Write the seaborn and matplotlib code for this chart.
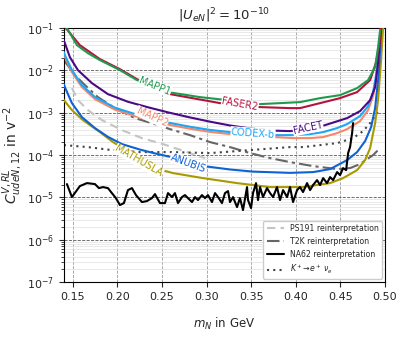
import numpy as np
import matplotlib
matplotlib.use("Agg")
import matplotlib.pyplot as plt
import seaborn as sns
from matplotlib.lines import Line2D
from matplotlib.ticker import LogLocator, FixedLocator, FormatStrFormatter

# ---- data: m_N in GeV, log10 of the Wilson coefficient bound ----
mapp1_m = [0.141, 0.1434, 0.1546, 0.1669, 0.1804, 0.2028, 0.2219, 0.2567, 0.2926, 0.3229, 0.3599,
           0.3823, 0.4047, 0.4272, 0.4496, 0.4687, 0.4810, 0.4889, 0.4922, 0.4945]
mapp1_log = [-0.85, -1.000, -1.402, -1.591, -1.756, -1.992, -2.228, -2.512, -2.630, -2.701, -2.795,
             -2.772, -2.748, -2.654, -2.583, -2.417, -2.228, -1.921, -1.449, -1.047]

faser2_m = [0.140, 0.1422, 0.1579, 0.1804, 0.2028, 0.2219, 0.2589, 0.3150, 0.3599, 0.3935, 0.4047,
            0.4272, 0.4496, 0.4687, 0.4833, 0.4900, 0.4934, 0.4956]
faser2_log = [-0.90, -1.000, -1.402, -1.732, -1.969, -2.205, -2.559, -2.772, -2.866, -2.890, -2.890,
              -2.772, -2.654, -2.512, -2.228, -1.803, -1.402, -1.000]

facet_m = [0.140, 0.1411, 0.1467, 0.1557, 0.1714, 0.1894, 0.2118, 0.2342, 0.2567, 0.2813, 0.3038, 0.3262,
           0.3487, 0.3711, 0.3935, 0.4160, 0.4328, 0.4575, 0.4720, 0.4833, 0.4889, 0.4922, 0.4945, 0.4956]
facet_log = [-1.30, -1.354, -1.685, -1.992, -2.299, -2.560, -2.740, -2.870, -2.990, -3.110, -3.210, -3.300,
             -3.370, -3.420, -3.433, -3.386, -3.292, -3.126, -2.961, -2.701, -2.394, -1.827, -1.283, -1.000]

codex_m = [0.140, 0.1411, 0.1490, 0.1602, 0.1748, 0.1972, 0.2196, 0.2365, 0.2589, 0.2813, 0.3038, 0.3262,
           0.3487, 0.3767, 0.3969, 0.4160, 0.4306, 0.4463, 0.4575, 0.4720, 0.4810, 0.4866, 0.4900, 0.4922,
           0.4945, 0.4956]
codex_log = [-1.567, -1.638, -1.992, -2.347, -2.630, -2.880, -3.030, -3.126, -3.240, -3.330, -3.405, -3.457,
             -3.500, -3.528, -3.528, -3.504, -3.457, -3.362, -3.268, -3.079, -2.843, -2.512, -2.110, -1.638,
             -1.165, -0.93]

mapp2_m = codex_m
mapp2_log = [-1.62, -1.685, -2.039, -2.394, -2.677, -2.927, -3.077, -3.173, -3.288, -3.377, -3.452, -3.504,
             -3.547, -3.575, -3.599, -3.599, -3.575, -3.481, -3.386, -3.197, -2.937, -2.606, -2.228, -1.756,
             -1.236, -0.95]

anubis_m = [0.140, 0.1411, 0.1490, 0.1602, 0.1748, 0.1894, 0.2051, 0.2253, 0.2421, 0.2589, 0.2813, 0.3004,
            0.3262, 0.3520, 0.3935, 0.4193, 0.4384, 0.4575, 0.4687, 0.4777, 0.4844, 0.4889, 0.4922, 0.4945,
            0.4956]
anubis_log = [-2.323, -2.394, -2.772, -3.103, -3.362, -3.570, -3.740, -3.870, -3.960, -4.040, -4.180, -4.270,
              -4.340, -4.390, -4.420, -4.402, -4.331, -4.118, -3.929, -3.669, -3.339, -2.890, -2.228, -1.520,
              -1.000]

mathusla_m = [0.140, 0.1490, 0.1613, 0.1804, 0.1950, 0.2140, 0.2499, 0.2623, 0.2959, 0.3341, 0.3711,
              0.4081, 0.4384, 0.4530, 0.4687, 0.4777, 0.4833, 0.4889, 0.4922, 0.4956, 0.4978]
mathusla_log = [-2.701, -2.937, -3.173, -3.457, -3.693, -3.930, -4.355, -4.425, -4.544, -4.662, -4.756,
                -4.756, -4.662, -4.544, -4.355, -4.118, -3.835, -3.244, -2.701, -1.756, -1.000]

ps191_m = [0.1490, 0.1557, 0.1669, 0.1826, 0.2051, 0.2275, 0.2511, 0.2780, 0.2982]
ps191_log = [-2.417, -2.701, -2.937, -3.173, -3.410, -3.599, -3.740, -3.929, -4.071]

t2k_m = [0.1400, 0.1523, 0.1636, 0.1781, 0.1972, 0.2196, 0.2421, 0.2589, 0.2813, 0.3038, 0.3262,
         0.3487, 0.3711, 0.3935, 0.4193, 0.4463, 0.4608, 0.4720, 0.4799, 0.4866, 0.4922]
t2k_log = [-1.756, -2.110, -2.347, -2.630, -2.890, -3.126, -3.268, -3.386, -3.528, -3.693, -3.811,
           -3.953, -4.071, -4.166, -4.260, -4.331, -4.307, -4.213, -4.095, -4.000, -3.882]

kenu_m = [0.1400, 0.1669, 0.1938, 0.2253, 0.2612, 0.3038, 0.3487, 0.3935, 0.4081, 0.4463, 0.4642,
          0.4754, 0.4833, 0.4889, 0.4922]
kenu_log = [-3.764, -3.811, -3.882, -3.929, -3.929, -3.953, -3.882, -3.811, -3.811, -3.717, -3.599,
            -3.433, -3.244, -3.079, -2.960]

na62_m = [0.1434, 0.1490, 0.1579, 0.1658, 0.1748, 0.1793, 0.1838, 0.1894, 0.1938, 0.1983, 0.2028, 0.2073,
          0.2118, 0.2163, 0.2208, 0.2275, 0.2331, 0.2387, 0.2421, 0.2477, 0.2533, 0.2567, 0.2612, 0.2645,
          0.2679, 0.2724, 0.2757, 0.2791, 0.2836, 0.2870, 0.2903, 0.2948, 0.2982, 0.3015, 0.3060, 0.3094,
          0.3128, 0.3172, 0.3206, 0.3240, 0.3262, 0.3296, 0.3341, 0.3374, 0.3408, 0.3453, 0.3464, 0.3498,
          0.3520, 0.3554, 0.3576, 0.3599, 0.3632, 0.3677, 0.3711, 0.3745, 0.3789, 0.3823, 0.3857, 0.3902,
          0.3935, 0.3969, 0.4014, 0.4047, 0.4081, 0.4126, 0.4160, 0.4193, 0.4238, 0.4272, 0.4306, 0.4350,
          0.4384, 0.4418, 0.4463, 0.4496, 0.4530, 0.4564, 0.4586, 0.4608, 0.4631, 0.4642]
na62_log = [-4.685, -4.992, -4.733, -4.662, -4.685, -4.780, -4.756, -4.780, -4.898, -5.016, -5.181, -5.134,
            -4.827, -4.780, -4.945, -5.110, -5.087, -5.016, -4.922, -5.134, -5.134, -4.898, -4.992, -4.898,
            -5.134, -4.992, -4.945, -5.016, -5.110, -4.992, -5.063, -4.945, -5.016, -4.945, -5.110, -4.898,
            -4.992, -5.134, -4.898, -4.851, -5.110, -4.992, -5.229, -5.016, -5.300, -4.756, -5.063, -5.252,
            -4.898, -4.662, -5.063, -4.756, -4.992, -4.780, -4.898, -4.992, -4.756, -5.063, -4.827, -4.992,
            -4.756, -5.110, -4.827, -4.756, -4.874, -4.662, -4.827, -4.709, -4.591, -4.709, -4.544, -4.662,
            -4.520, -4.591, -4.402, -4.473, -4.307, -4.355, -3.953, -3.811, -3.481, -3.244]

# inline curve labels: text, m position, log10 position, rotation
label_names = ["MAPP1", "FASER2", "MAPP2", "CODEX-b", "FACET", "ANUBIS", "MATHUSLA"]
label_m = [0.2421, 0.3374, 0.2387, 0.3520, 0.4137, 0.2791, 0.2241]
label_log = [-2.37, -2.795, -3.103, -3.481, -3.362, -4.19, -4.14]
label_rot = [-22, -10, -25, -4, 12, -20, -30]

colors = {
    "MAPP1": "#1f9a4c",
    "FASER2": "#b5123f",
    "FACET": "#4b0a85",
    "CODEX-b": "#1ea6f4",
    "MAPP2": "#f8866a",
    "ANUBIS": "#0f62d4",
    "MATHUSLA": "#a99a00",
}

sns.set_style("ticks")
plt.rcParams["font.family"] = ["DejaVu Sans"]
plt.rcParams["mathtext.fontset"] = "dejavusans"

fig, ax = plt.subplots(figsize=(4.07, 3.39), dpi=100)
fig.subplots_adjust(left=0.157, right=0.946, top=0.917, bottom=0.168)

lw = 1.5


def draw(m, logs, color, ls="-", z=2):
    sns.lineplot(x=np.array(m), y=10.0 ** np.array(logs), ax=ax, color=color,
                 linewidth=lw, linestyle=ls, sort=False, estimator=None, zorder=z, legend=False)


# reinterpretations (grey)
draw(ps191_m, ps191_log, "#c4c4c4", ls=(0, (4, 2.5)), z=2)
draw(t2k_m, t2k_log, "#666666", ls=(0, (6, 2, 1.5, 2)), z=2)
draw(kenu_m, kenu_log, "#444444", ls=(0, (1, 2)), z=2)

# future experiments
draw(mathusla_m, mathusla_log, colors["MATHUSLA"], z=3)
draw(anubis_m, anubis_log, colors["ANUBIS"], z=3)
draw(mapp2_m, mapp2_log, colors["MAPP2"], z=3)
draw(codex_m, codex_log, colors["CODEX-b"], z=3)
draw(facet_m, facet_log, colors["FACET"], z=3)
draw(faser2_m, faser2_log, colors["FASER2"], z=3)
draw(mapp1_m, mapp1_log, colors["MAPP1"], z=3)

draw(na62_m, na62_log, "black", z=4)

for name, xm, yl, rot in zip(label_names, label_m, label_log, label_rot):
    ax.text(xm, 10.0 ** yl, name, color=colors[name], fontsize=7, rotation=rot,
            ha="center", va="center", rotation_mode="anchor", zorder=6,
            bbox=dict(boxstyle="square,pad=0.05", fc="white", ec="none"))

ax.set_yscale("log")
ax.set_xlim(0.14, 0.50)
ax.set_ylim(1e-7, 1e-1)

ax.xaxis.set_major_locator(FixedLocator([0.15, 0.20, 0.25, 0.30, 0.35, 0.40, 0.45, 0.50]))
ax.xaxis.set_major_formatter(FormatStrFormatter("%.2f"))
ax.yaxis.set_major_locator(LogLocator(base=10, numticks=10))
ax.yaxis.set_minor_locator(LogLocator(base=10, subs=np.arange(2, 10), numticks=20))
ax.tick_params(axis="both", which="major", labelsize=8, length=3.5, width=0.8)
ax.tick_params(axis="y", which="minor", length=2, width=0.6)

ax.grid(True, axis="x", which="major", ls="--", color="0.6", lw=0.6)
ax.grid(True, axis="y", which="major", ls="--", color="0.35", lw=0.6)
ax.grid(True, axis="y", which="minor", ls="-", color="0.88", lw=0.5)
ax.set_axisbelow(True)
for sp in ax.spines.values():
    sp.set_visible(True)
    sp.set_color("black")
    sp.set_linewidth(0.8)

ax.set_title(r"$|U_{eN}|^2 = 10^{-10}$", fontsize=9.5)
ax.set_xlabel(r"$m_N$ in GeV", fontsize=8.5, labelpad=10)
ax.set_ylabel(r"$C^{V,RL}_{udeN,12}$ in v$^{-2}$", fontsize=10, labelpad=1)

handles = [
    Line2D([], [], color="#c4c4c4", lw=lw, ls=(0, (4, 2.5))),
    Line2D([], [], color="#666666", lw=lw, ls=(0, (6, 2, 1.5, 2))),
    Line2D([], [], color="black", lw=lw),
    Line2D([], [], color="#444444", lw=lw, ls=(0, (1, 2))),
]
labels = ["PS191 reinterpretation", "T2K reinterpretation", "NA62 reinterpretation",
          r"$K^+\!\to\! e^+\,\nu_e$"]
ax.legend(handles, labels, loc="lower right", fontsize=5.6, frameon=True, handlelength=2.2,
          borderaxespad=0.4, labelspacing=0.5, framealpha=1.0, edgecolor="0.8")

fig.savefig("out.png", dpi=100)
